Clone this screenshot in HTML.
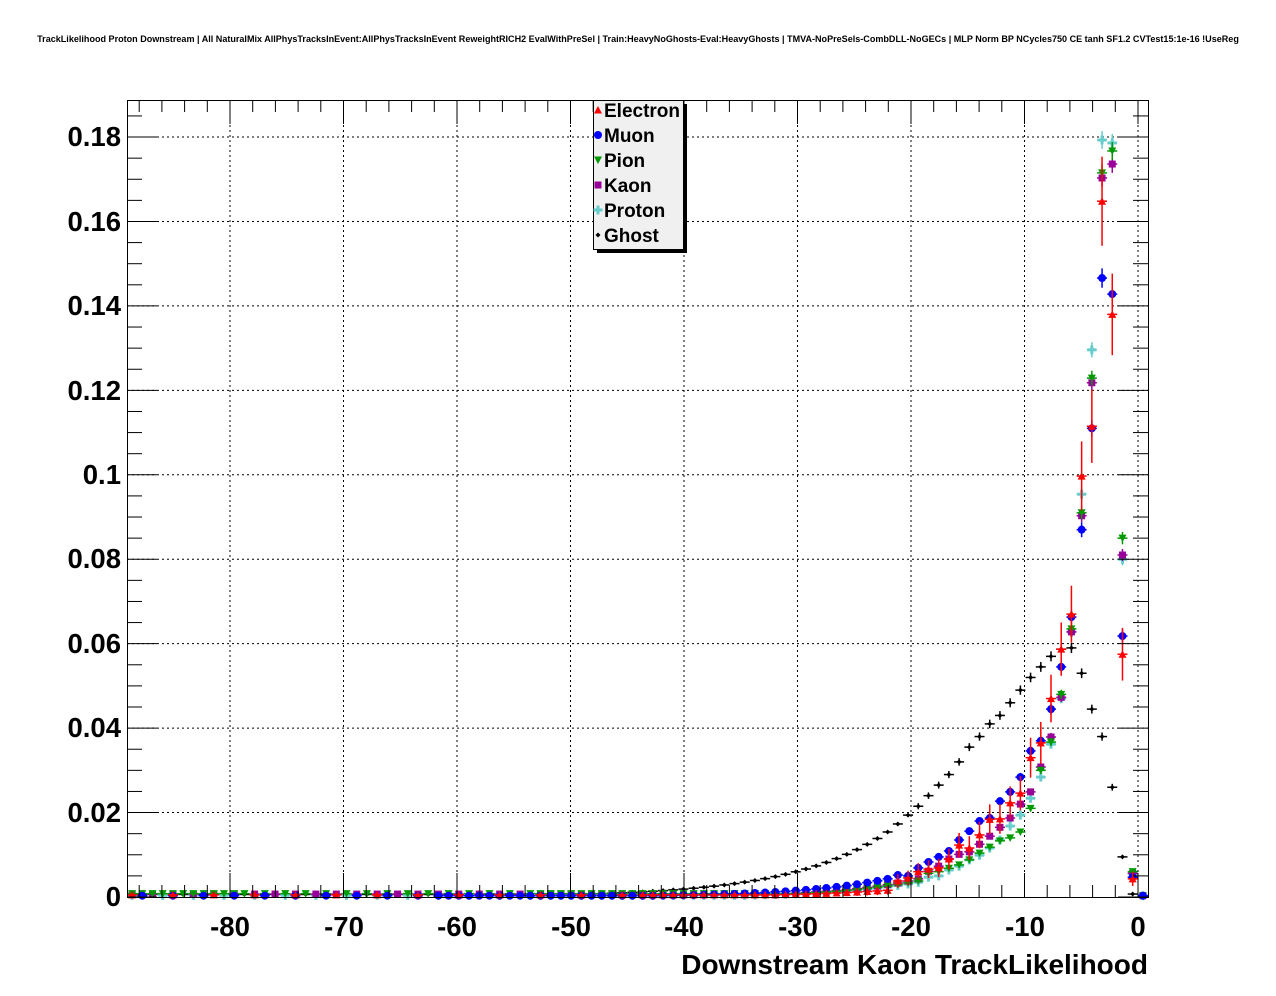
<!DOCTYPE html>
<html><head><meta charset="utf-8"><style>
html,body{margin:0;padding:0;background:#fff;}
svg{display:block;font-family:"Liberation Sans",sans-serif;}
</style></head><body>
<svg id="s" width="1276" height="996" viewBox="0 0 1276 996" xmlns="http://www.w3.org/2000/svg">
<rect width="1276" height="996" fill="#fff"/>
<text x="638" y="42" font-size="9.05" font-weight="bold" text-anchor="middle">TrackLikelihood Proton Downstream | All NaturalMix AllPhysTracksInEvent:AllPhysTracksInEvent ReweightRICH2 EvalWithPreSel | Train:HeavyNoGhosts-Eval:HeavyGhosts | TMVA-NoPreSels-CombDLL-NoGECs | MLP Norm BP NCycles750 CE tanh SF1.2 CVTest15:1e-16 !UseReg</text>
<g id="grid"></g>
<g id="data"></g>
<rect x="127.5" y="100.5" width="1021" height="797" fill="none" stroke="#000" stroke-width="1"/>
<g id="ticks"></g>
<g font-size="27.5" font-weight="bold" text-anchor="end">
<text x="121" y="146">0.18</text><text x="121" y="231">0.16</text><text x="121" y="315">0.14</text>
<text x="121" y="400">0.12</text><text x="121" y="484">0.1</text><text x="121" y="568">0.08</text>
<text x="121" y="653">0.06</text><text x="121" y="737">0.04</text><text x="121" y="822">0.02</text>
<text x="121" y="906">0</text>
</g>
<g font-size="27.5" font-weight="bold" text-anchor="middle">
<text x="230" y="936">-80</text><text x="344" y="936">-70</text><text x="457" y="936">-60</text>
<text x="571" y="936">-50</text><text x="684" y="936">-40</text><text x="798" y="936">-30</text>
<text x="911" y="936">-20</text><text x="1025" y="936">-10</text><text x="1138" y="936">0</text>
</g>
<text x="1148" y="974" font-size="28" font-weight="bold" text-anchor="end">Downstream Kaon TrackLikelihood</text>
<rect x="597" y="104" width="90" height="149" fill="#000"/>
<rect x="593.5" y="100.5" width="90" height="149" fill="#f0f0f0" stroke="#000"/>
<g font-size="19" font-weight="bold">
<text x="604" y="117">Electron</text><text x="604" y="142">Muon</text><text x="604" y="167">Pion</text>
<text x="604" y="192">Kaon</text><text x="604" y="217">Proton</text><text x="604" y="242">Ghost</text>
</g>
<g id="leg"></g>
</svg>
<script>
var NS="http://www.w3.org/2000/svg";
function el(p,t,a){var e=document.createElementNS(NS,t);for(var k in a)e.setAttribute(k,a[k]);p.appendChild(e);return e;}
var g=document.getElementById('grid'),tk=document.getElementById('ticks'),d=document.getElementById('data'),lg=document.getElementById('leg');
function X(v){return 1138+11.35*v;}
function Y(v){return 897-v*4222;}
for(var v=-80;v<=0;v+=10){el(g,'line',{x1:X(v),x2:X(v),y1:100,y2:897,stroke:'#000','stroke-dasharray':'2,3','stroke-width':1});}
for(var i=1;i<=9;i++){var y=Y(i*0.02);el(g,'line',{x1:127,x2:1148,y1:y,y2:y,stroke:'#000','stroke-dasharray':'2,3','stroke-width':1});}
for(var v=-88;v<=0;v+=2){var x=X(v),L=(v%10==0)?24:12;
el(tk,'line',{x1:x,x2:x,y1:897,y2:897-L,stroke:'#000'});el(tk,'line',{x1:x,x2:x,y1:100,y2:100+L,stroke:'#000'});}
for(var i=0;i<=37;i++){var v=i*0.005,y=Y(v);if(y<100)break;var L=(i%4==0)?30:15;
el(tk,'line',{x1:127,x2:127+L,y1:y,y2:y,stroke:'#000'});el(tk,'line',{x1:1148-L,x2:1148,y1:y,y2:y,stroke:'#000'});}
function bx(k){return 127+10.21*(k+0.5);}
function fill(obj,last,f,floor){var a=[];for(var k=0;k<100;k++){if(obj[k]!==undefined)a[k]=obj[k];}
 for(var k=last-1;k>=0;k--){if(a[k]===undefined)a[k]=Math.max(a[k+1]*f,floor);}return a;}
var ghost=fill({98:0.0007,97:0.0095,96:0.026,95:0.038,94:0.0445,93:0.053,92:0.059,91:0.0587,90:0.057,89:0.0545,88:0.052,87:0.049,86:0.046,85:0.043,84:0.041,83:0.038,82:0.0355,81:0.032,80:0.029,79:0.0265,78:0.024,77:0.0215,76:0.0194,75:0.0173,74:0.0154},74,0.9,0.0006);
var muon=fill({99:0.0003,98:0.0047,97:0.0618,96:0.1428,95:0.1466,94:0.111,93:0.087,92:0.0663,91:0.0545,90:0.0445,89:0.037,88:0.0346,87:0.0284,86:0.0249,85:0.0227,84:0.0187,83:0.018,82:0.0156,81:0.0135,80:0.0109,79:0.0095,78:0.0083,77:0.0069,76:0.005,75:0.0052,74:0.0043},74,0.89,0.0003);
var ele=fill({98:0.0043,97:0.0575,96:0.138,95:0.1648,94:0.1115,93:0.0997,92:0.067,91:0.0587,90:0.047,89:0.0365,88:0.033,87:0.0246,86:0.0223,85:0.0185,84:0.0184,83:0.0147,82:0.0116,81:0.0123,80:0.009,79:0.0069,78:0.0066,77:0.006,76:0.0045,75:0.0038,74:0.0016},74,0.9,0.0005);
var pion=fill({99:0.0003,98:0.006,97:0.085,96:0.1767,95:0.1715,94:0.1229,93:0.091,92:0.0635,91:0.048,90:0.0367,89:0.030,88:0.021,87:0.0154,86:0.014,85:0.0133,84:0.0118,83:0.0104,82:0.0088,81:0.0076,80:0.0068,79:0.006,78:0.0056,77:0.0038},77,0.88,0.0008);
var kaon=fill({99:0.0003,98:0.0056,97:0.081,96:0.1736,95:0.1703,94:0.1218,93:0.0903,92:0.0628,91:0.0473,90:0.0379,89:0.0308,88:0.0249,87:0.022,86:0.0187,85:0.0165,84:0.0144,83:0.0125,82:0.0107,81:0.0101,80:0.009,79:0.0073,78:0.0061,77:0.0043},77,0.88,0.0007);
var prot=fill({99:0.0003,98:0.0055,97:0.08,96:0.1786,95:0.1793,94:0.1296,93:0.0954,92:0.0628,91:0.047,90:0.0362,89:0.0284,88:0.0234,87:0.0194,86:0.0168,85:0.0135,84:0.0116,83:0.0099,82:0.0088,81:0.0073,80:0.0064,79:0.005,78:0.0047,77:0.0035},77,0.88,0.0004);
function marker(p,type,x,y,c){
 if(type=='tu')el(p,'polygon',{points:(x-4)+','+(y+3.5)+' '+(x+4)+','+(y+3.5)+' '+x+','+(y-4),fill:c});
 else if(type=='td')el(p,'polygon',{points:(x-4)+','+(y-3.5)+' '+(x+4)+','+(y-3.5)+' '+x+','+(y+4),fill:c});
 else if(type=='c')el(p,'circle',{cx:x,cy:y,r:4,fill:c});
 else if(type=='sq')el(p,'rect',{x:x-3.5,y:y-3.5,width:7,height:7,fill:c});
 else if(type=='pl'){el(p,'rect',{x:x-4.5,y:y-1.5,width:9,height:3,fill:c});el(p,'rect',{x:x-1.5,y:y-4.5,width:3,height:9,fill:c});}
 else if(type=='d')el(p,'polygon',{points:(x-2.5)+','+y+' '+x+','+(y-2.5)+' '+(x+2.5)+','+y+' '+x+','+(y+2.5),fill:c});
}
function series(a,type,c,ef,skip){
 for(var k=0;k<100;k++){if(skip&&skip(k))continue;var v=a[k];if(v===undefined)continue;var x=bx(k),y=Y(v);
  var e=ef*Math.sqrt(v)*4222;
  el(d,'line',{x1:x-5,x2:x+5,y1:y,y2:y,stroke:c,'stroke-width':1.5});
  if(e>3)el(d,'line',{x1:x,x2:x,y1:y-e,y2:y+e,stroke:c,'stroke-width':1.5});
  marker(d,type,x,y,c);}
}
series(ghost,'d','#000',0.005);
series(prot,'pl','#66cccc',0.005,function(k){return k<40&&k%3!=0;});
series(kaon,'sq','#990099',0.005,function(k){return k<40&&k%2==1;});
series(pion,'td','#009900',0.005,function(k){return k<40&&k%2==0&&k>10;});
series(muon,'c','#0000ff',0.006,function(k){return k<30&&k%3!=1;});
series(ele,'tu','#ff0000',0.026,function(k){return k<50&&k%4!=0;});
var ly=[110,135,160,185,210,235],lt=['tu','c','td','sq','pl','d'],lc=['#ff0000','#0000ff','#009900','#990099','#66cccc','#000'];
for(var i=0;i<6;i++){marker(lg,lt[i],598,ly[i],lc[i]);}
</script>
</body></html>
